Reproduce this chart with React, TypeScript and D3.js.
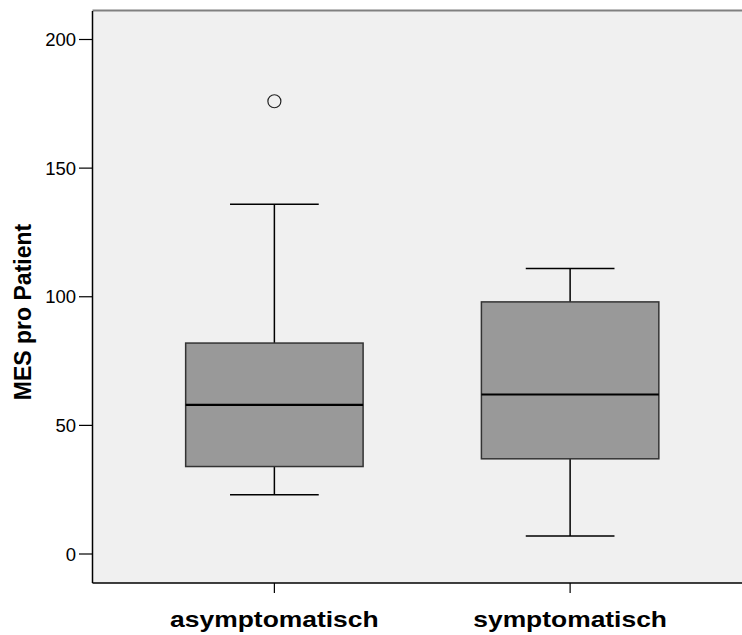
import React from "react";
import * as d3 from "d3";

const groups = ["asymptomatisch", "symptomatisch"];
const q1 = [34, 37];
const medians = [58, 62];
const q3 = [82, 98];
const whiskerLow = [23, 7];
const whiskerHigh = [136, 111];
const outliers = [[176], []];
const yTicks = [0, 50, 100, 150, 200];

const W = 742;
const H = 635;
const plot = { left: 92.5, top: 11, right: 752, bottom: 583 };

export default function App() {
  const x = d3
    .scaleBand<string>()
    .domain(groups)
    .range([plot.left, plot.right])
    .paddingInner(0.4)
    .paddingOuter(0.315);

  const y = d3.scaleLinear().domain([0, 200]).range([554, 39.5]);

  const bw = x.bandwidth();
  const capW = bw * 0.25;
  const font = "'Liberation Sans', Arial, sans-serif";

  return (
    <svg
      width={W}
      height={H}
      style={{ position: "absolute", left: 0, top: 0, fontFamily: font }}
    >
      <rect x={0} y={0} width={W} height={H} fill="#ffffff" />
      <rect
        x={plot.left}
        y={plot.top}
        width={W - plot.left}
        height={plot.bottom - plot.top}
        fill="#f0f0f0"
      />
      <line x1={plot.left} x2={W} y1={plot.top - 0.5} y2={plot.top - 0.5} stroke="#808080" strokeWidth={2} />

      {groups.map((g, i) => {
        const cx = (x(g) as number) + bw / 2;
        const x0 = x(g) as number;
        return (
          <g key={g}>
            <line x1={cx} x2={cx} y1={y(q3[i])} y2={y(whiskerHigh[i])} stroke="#000" strokeWidth={1.5} />
            <line x1={cx} x2={cx} y1={y(q1[i])} y2={y(whiskerLow[i])} stroke="#000" strokeWidth={1.5} />
            <line x1={cx - capW} x2={cx + capW} y1={y(whiskerHigh[i])} y2={y(whiskerHigh[i])} stroke="#000" strokeWidth={1.5} />
            <line x1={cx - capW} x2={cx + capW} y1={y(whiskerLow[i])} y2={y(whiskerLow[i])} stroke="#000" strokeWidth={1.5} />
            <rect
              x={x0}
              y={y(q3[i])}
              width={bw}
              height={y(q1[i]) - y(q3[i])}
              fill="#999999"
              stroke="#333"
              strokeWidth={1.5}
            />
            <line x1={x0} x2={x0 + bw} y1={y(medians[i])} y2={y(medians[i])} stroke="#000" strokeWidth={2.2} />
            {outliers[i].map((v, j) => (
              <circle key={j} cx={cx} cy={y(v)} r={6.5} fill="none" stroke="#222" strokeWidth={1.2} />
            ))}
            <line x1={cx} x2={cx} y1={plot.bottom} y2={plot.bottom + 10} stroke="#000" strokeWidth={1.2} />
            <text
              x={cx}
              y={627}
              textAnchor="middle"
              fontSize={22}
              fontWeight="bold"
              fill="#000"
              textLength={g.length * 14.9}
              lengthAdjust="spacingAndGlyphs"
            >
              {g}
            </text>
          </g>
        );
      })}

      <line x1={plot.left} x2={plot.left} y1={plot.top} y2={plot.bottom} stroke="#000" strokeWidth={1.5} />
      <line x1={plot.left} x2={W} y1={plot.bottom} y2={plot.bottom} stroke="#000" strokeWidth={1.5} />

      {yTicks.map((t) => (
        <g key={t}>
          <line x1={79} x2={plot.left} y1={y(t)} y2={y(t)} stroke="#000" strokeWidth={1.2} />
          <text x={76} y={y(t)} dy="0.36em" textAnchor="end" fontSize={18.5} fill="#000">
            {t}
          </text>
        </g>
      ))}

      <text
        transform={`translate(31,312) rotate(-90)`}
        textAnchor="middle"
        fontSize={23}
        fontWeight="bold"
        fill="#000"
      >
        MES pro Patient
      </text>
    </svg>
  );
}
